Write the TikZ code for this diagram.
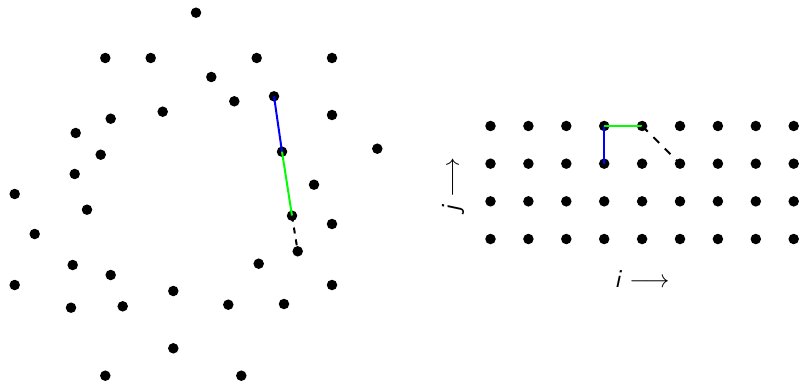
\documentclass[tikz,border=0pt]{standalone}
\begin{document}
\begin{tikzpicture}[x=1pt,y=-1pt,
  dot/.style={circle,fill=black,inner sep=0pt,minimum size=10.5pt},
  edge/.style={line width=2pt},
  lbl/.style={font=\fontsize{26}{30}\selectfont\sffamily\itshape, inner sep=0pt}]
\useasboundingbox (0,0) rectangle (800,382);
% scattered points
\foreach \n/\x/\y in {a1/196/12.7, a2/105.3/58, a3/150.7/58, a4/256.7/58, a5/332/58,
  a6/211.3/77, p1/274/96.3, a8/234.3/101.3, a9/162.7/111.7, a10/110.7/118.7,
  a11/332/115, a12/75.7/133, p2/282/151.7, a14/377.3/148.7, a15/100.7/154.7,
  a16/314/184.7, a17/74.7/174, a18/14.7/194, a19/87/209.7, a20/34.7/234,
  p3/292/215.7, a22/332/224, p4/297.7/251.3, a24/72.7/265, a25/110.7/275,
  a26/258.7/263.7, a27/14.7/285, a28/332/285, a29/173.3/291, a30/71/307.7,
  a31/122.7/306.3, a32/228.3/304.7, a33/284/304, a34/173.3/348.3,
  a35/105.3/375.7, a36/241.3/375.7}
  \node[dot] (\n) at (\x,\y) {};
\draw[edge,blue] (p1.center) -- (p2.center);
\draw[edge,green] (p2.center) -- (p3.center);
\draw[edge,black,dash pattern=on 6pt off 6pt] (p3.center) -- (p4.center);
% grid
\foreach \i in {0,...,8}
  \foreach \j in {0,...,3}
    \node[dot] (g\i-\j) at (490.5+37.9*\i, 126+37.67*\j) {};
\draw[edge,blue] (g3-0.center) -- (g3-1.center);
\draw[edge,green] (g3-0.center) -- (g4-0.center);
\draw[edge,black,dash pattern=on 8pt off 8pt] (g4-0.center) -- (g5-1.center);
% labels
\node[lbl] (ilbl) at (642,279) {i\hspace{9pt}$\longrightarrow$};
\node[lbl,rotate=90] (jlbl) at (453,185) {j\hspace{9pt}$\longrightarrow$};
\end{tikzpicture}
\end{document}
